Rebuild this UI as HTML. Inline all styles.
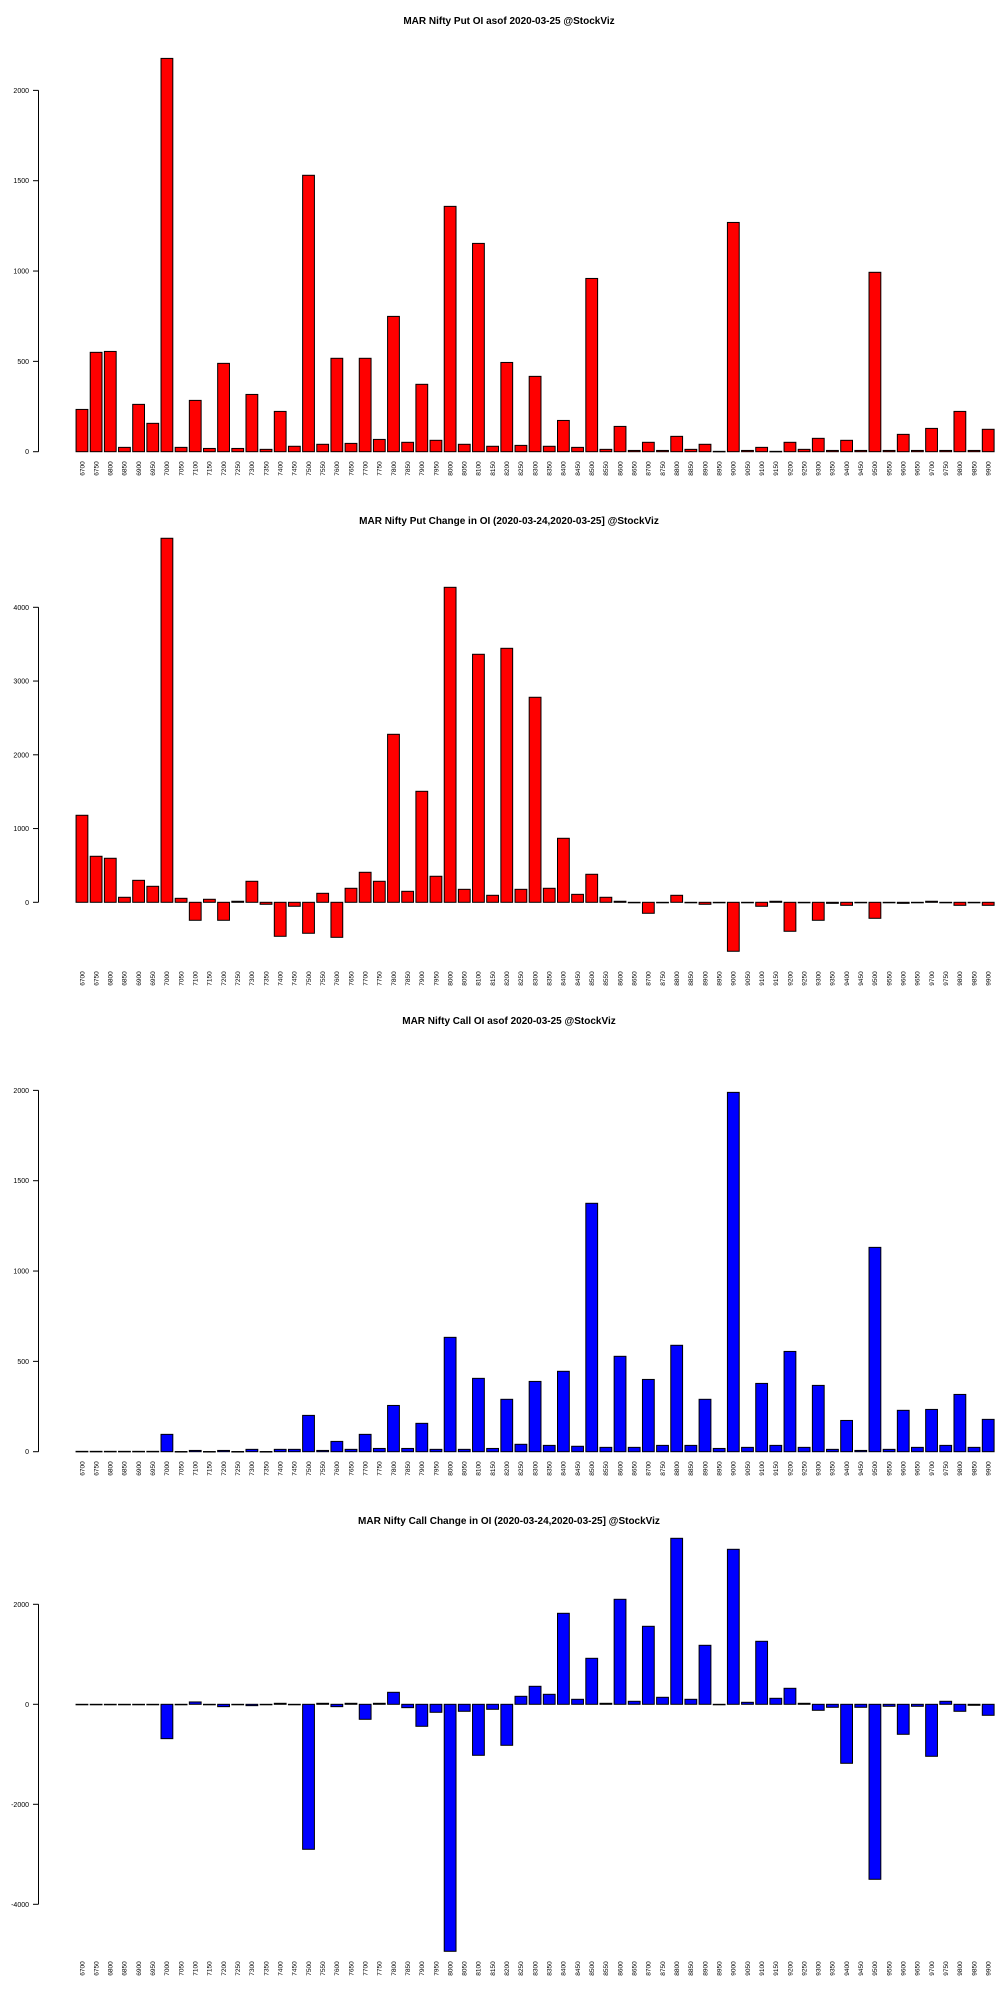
<!DOCTYPE html>
<html><head><meta charset="utf-8"><style>
html,body{margin:0;padding:0;background:#fff;}
svg{display:block;font-family:"Liberation Sans",sans-serif;}
</style></head><body>
<svg id="root" width="1000" height="2000" viewBox="0 0 1000 2000" xmlns="http://www.w3.org/2000/svg"></svg>
<script>
const strikes = [];
for (let s = 6700; s <= 9900; s += 50) strikes.push(s);
const putOI = [234,550,555,24,262,157,2177,24,284,18,489,18,317,13,223,30,1530,41,517,46,517,68,749,52,373,63,1358,41,1153,30,494,35,417,30,173,24,959,13,140,7,52,7,85,13,41,2,1269,7,24,2,52,13,74,7,63,7,993,7,96,7,129,7,223,7,124];
const putChg = [1180,624,597,68,298,217,4936,54,-244,41,-244,14,285,-27,-461,-54,-420,122,-475,190,407,285,2278,149,1505,353,4271,176,3363,95,3444,176,2780,190,868,108,380,68,14,0,-149,0,95,0,-27,0,-664,0,-54,14,-393,0,-244,-14,-41,0,-217,0,-14,0,14,0,-41,0,-41];
const callOI = [2,2,2,2,2,2,96,1,7,1,7,1,13,1,13,13,201,7,57,13,96,18,256,18,157,13,633,13,406,18,290,41,389,35,445,30,1375,24,528,24,400,35,589,35,290,18,1989,24,378,35,555,24,367,13,173,7,1131,13,229,24,234,35,317,24,179];
const callChg = [0,0,0,0,0,0,-687,0,47,0,-47,0,-27,0,20,0,-2900,20,-47,20,-300,20,240,-67,-440,-160,-4940,-140,-1020,-100,-820,160,360,200,1820,100,920,20,2100,60,1560,140,3320,100,1180,0,3100,40,1260,120,320,20,-120,-60,-1180,-60,-3500,-40,-600,-40,-1040,60,-140,-20,-220];
const putTicks = [0,500,1000,1500,2000];
const putChgTicks = [0,1000,2000,3000,4000];
const callTicks = [0,500,1000,1500,2000];
const callChgTicks = [-4000,-2000,0,2000];

const NS = "http://www.w3.org/2000/svg";
const root = document.getElementById('root');
function mk(tag, attrs, parent){const e=document.createElementNS(NS,tag);for(const k in attrs)e.setAttribute(k,attrs[k]);parent.appendChild(e);return e;}

function chart(name, title, titleY, values, ticks, y0, pxPerUnit, color, labelY){
  const g = mk('g',{},root);
  
  
  const yS = v => y0 - v*pxPerUnit;
  const t = mk('text',{x:509,y:titleY,'text-anchor':'middle','font-size':'10','font-weight':'bold',fill:'#000'},g);
  t.textContent = title;
  
  
  const ax = mk('g',{},g);
  
  
  mk('line',{x1:38.5,x2:38.5,y1:yS(Math.min(...ticks)),y2:yS(Math.max(...ticks)),stroke:'#000','stroke-width':1},ax);
  ticks.forEach(v=>{
    const y=yS(v);
    mk('line',{x1:33,x2:38.5,y1:y,y2:y,stroke:'#000','stroke-width':1},ax);
    const tl=mk('text',{x:29,y:y+2.5,'text-anchor':'end','font-size':'7',fill:'#000'},ax);
    tl.textContent=v;
    
    
  });
  const origin=73.7, u=11.8;
  values.forEach((v,i)=>{
    const x=origin+(0.2+1.2*i)*u;
    const ya=yS(v), yb=yS(0);
    const r=mk('rect',{x:x,y:Math.min(ya,yb),width:u,height:Math.max(Math.abs(ya-yb),0.5),fill:color,stroke:'#000','stroke-width':1},g);
    
    
    const cx=x+u/2;
    const lt=mk('text',{x:0,y:0,'text-anchor':'middle','font-size':'6.5',fill:'#000',transform:'translate('+(cx+2.3)+','+labelY+') rotate(-90)'},g);
    lt.textContent=strikes[i];
    
    
  });
}
chart('put-oi-chart','MAR Nifty Put OI asof 2020-03-25 @StockViz',24,putOI,putTicks,451.7,90.33/500,'#ff0000',468.5);
chart('put-change-chart','MAR Nifty Put Change in OI (2020-03-24,2020-03-25] @StockViz',524,putChg,putChgTicks,902.3,73.75/1000,'#ff0000',978.5);
chart('call-oi-chart','MAR Nifty Call OI asof 2020-03-25 @StockViz',1024,callOI,callTicks,1451.7,90.33/500,'#0000ff',1468.5);
chart('call-change-chart','MAR Nifty Call Change in OI (2020-03-24,2020-03-25] @StockViz',1524,callChg,callChgTicks,1704.3,100/2000,'#0000ff',1968.5);
</script>
</body></html>
